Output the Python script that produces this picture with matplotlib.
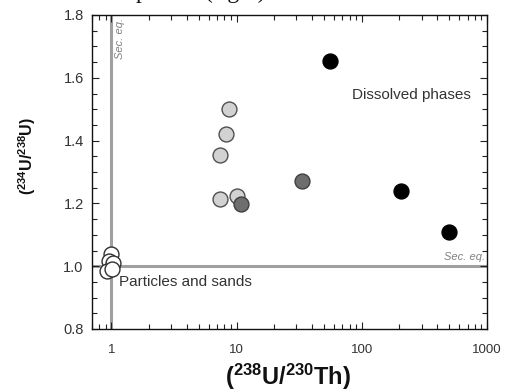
import matplotlib
matplotlib.use("Agg")
import matplotlib.pyplot as plt
from matplotlib.ticker import LogLocator, MultipleLocator, FixedLocator, NullFormatter

plt.rcParams['font.family'] = ['Liberation Sans', 'DejaVu Sans']
plt.rcParams['mathtext.fontset'] = 'custom'
plt.rcParams['mathtext.rm'] = 'Liberation Sans'
plt.rcParams['mathtext.bf'] = 'Liberation Sans:bold'

# Data (238U/230Th, 234U/238U)
particles_x = [1.0, 0.95, 1.03, 0.92, 1.02]
particles_y = [1.04, 1.015, 1.01, 0.985, 0.99]

light_x = [8.7, 8.2, 7.4, 7.4, 10.0]
light_y = [1.50, 1.42, 1.354, 1.214, 1.222]

mid_x = [10.8, 33.0]
mid_y = [1.198, 1.272]

dark_x = [56.0, 205.0, 500.0]
dark_y = [1.653, 1.24, 1.108]

xticks = [1, 10, 100, 1000]
xticklabels = ['1', '10', '100', '1000']
yticks = [0.8, 1.0, 1.2, 1.4, 1.6, 1.8]
yticklabels = ['0.8', '1.0', '1.2', '1.4', '1.6', '1.8']

W, H = 508, 392
fig = plt.figure(figsize=(W / 100, H / 100), dpi=100)
ax = fig.add_axes([92 / W, 1 - 329 / H, (487 - 92) / W, (329 - 15) / H])

ax.set_xscale('log')
ax.set_xlim(0.7, 1000)
ax.set_ylim(0.8, 1.8)

line_c = '#a0a0a0'
ax.axvline(1.0, color=line_c, lw=2.2, zorder=1)
ax.axhline(1.0, color=line_c, lw=2.2, zorder=1)

ms = 115
ax.scatter(light_x, light_y, s=ms, facecolor='#d2d2d2', edgecolor='#505050', lw=1.0, zorder=3)
ax.scatter(mid_x, mid_y, s=ms, facecolor='#6e6e6e', edgecolor='#404040', lw=1.0, zorder=3)
ax.scatter(dark_x, dark_y, s=ms, facecolor='#000000', edgecolor='#000000', lw=1.0, zorder=3)
ax.scatter(particles_x, particles_y, s=ms, facecolor='white', edgecolor='#303030', lw=1.0, zorder=3)

ax.text(1.06, 1.79, 'Sec. eq.', rotation=90, ha='left', va='top', fontsize=8,
        style='italic', color='#808080')
ax.text(0.995, 1.0 + 0.012, 'Sec. eq.', transform=ax.get_yaxis_transform(),
        ha='right', va='bottom', fontsize=8, style='italic', color='#808080')
ax.text(1.15, 0.95, 'Particles and sands', fontsize=11, color='#333333', va='center')
ax.text(740, 1.545, 'Dissolved phases', fontsize=11, color='#333333', va='center', ha='right')

ax.xaxis.set_major_locator(FixedLocator(xticks))
ax.set_xticklabels(xticklabels)
ax.xaxis.set_minor_locator(LogLocator(base=10, subs=range(2, 10)))
ax.xaxis.set_minor_formatter(NullFormatter())
ax.set_yticks(yticks)
ax.set_yticklabels(yticklabels)
ax.yaxis.set_minor_locator(MultipleLocator(0.05))

ax.tick_params(axis='both', which='both', direction='in', top=True, right=True,
               colors='#222222', width=0.8)
ax.tick_params(axis='both', which='major', length=5)
ax.tick_params(axis='both', which='minor', length=3.5)
ax.tick_params(axis='x', which='major', labelsize=9.5, pad=11, labelcolor='#333333')
ax.tick_params(axis='y', which='major', labelsize=10.5, pad=6, labelcolor='#333333')
for sp in ax.spines.values():
    sp.set_linewidth(1.0)
    sp.set_color('#111111')

fig.text(288 / W, 1 - 377 / H, r'$\mathbf{(^{238}U/^{230}Th)}$', fontsize=17,
         ha='center', va='center', color='#111111')
fig.text(27 / W, 1 - 156 / H, r'$\mathbf{(^{234}U/^{238}U)}$', fontsize=11.5,
         ha='center', va='center', rotation=90, color='#111111')

# Partially visible caption text cut by the top edge, as in the reference
fig.text(136 / W, 1 + 2 / H, 'phases (right).', fontsize=17,
         family='Liberation Serif', ha='left', va='baseline', color='#111111')

fig.savefig('out.png', dpi=100)
